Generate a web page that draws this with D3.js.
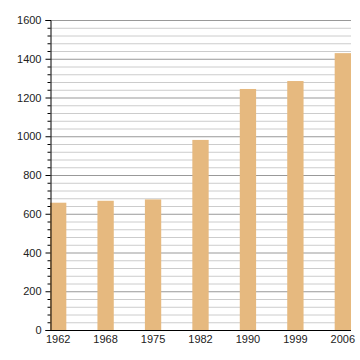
<!DOCTYPE html>
<html>
<head>
<meta charset="utf-8">
<script src="https://cdn.jsdelivr.net/npm/d3@7"></script>
<style>
  body { margin: 0; background: #fff; }
  text { font-family: "Liberation Sans", Arial, sans-serif; font-size: 11px; fill: #222; }
</style>
</head>
<body>
<svg id="chart" width="360" height="360"></svg>
<script>
var years = ["1962", "1968", "1975", "1982", "1990", "1999", "2006"]
var population = [657, 667, 674, 981, 1244, 1285, 1429]
var major_ticks = [0, 200, 400, 600, 800, 1000, 1200, 1400, 1600]

var svg = d3.select("#chart")
var plot_left = 50, plot_right = 351, plot_top = 20, plot_bottom = 330

var x = d3.scaleBand()
  .domain(years)
  .range([plot_left, plot_right])
  .paddingInner(0.656)
  .paddingOuter(0)

var y = d3.scaleLinear()
  .domain([0, 1600])
  .range([plot_bottom, plot_top])

var minor_ticks = d3.range(0, 1601, 40).filter(v => v % 200 != 0)

// grid lines
svg.append("g")
  .selectAll("line")
  .data(minor_ticks)
  .enter().append("line")
  .attr("x1", plot_left).attr("x2", plot_right)
  .attr("y1", d => y(d) + 0.5).attr("y2", d => y(d) + 0.5)
  .attr("stroke", "#cccccc")

svg.append("g")
  .selectAll("line")
  .data(major_ticks.filter(v => v > 0))
  .enter().append("line")
  .attr("x1", plot_left).attr("x2", plot_right)
  .attr("y1", d => y(d) + 0.5).attr("y2", d => y(d) + 0.5)
  .attr("stroke", "#999999")

// bars
svg.append("g")
  .selectAll("rect")
  .data(population)
  .enter().append("rect")
  .attr("x", (d, i) => x(years[i]))
  .attr("width", x.bandwidth())
  .attr("y", d => y(d))
  .attr("height", d => y(0) - y(d))
  .attr("fill", "#e6b97f")

// y axis
var yAxis = svg.append("g")
  .attr("transform", `translate(${plot_left + 0.5},0)`)
  .call(d3.axisLeft(y).tickValues(major_ticks).tickSize(5).tickPadding(4).tickFormat(d3.format("d")))
yAxis.select(".domain").attr("stroke", "#000")
yAxis.selectAll(".tick line").attr("stroke", "#000")
yAxis.selectAll("text").attr("font-family", null).attr("font-size", null).attr("fill", "#222")
svg.append("g")
  .attr("transform", `translate(${plot_left + 0.5},0)`)
  .call(d3.axisLeft(y).tickValues(minor_ticks).tickSize(3).tickFormat(""))
  .call(g => g.select(".domain").remove())
  .selectAll(".tick line").attr("stroke", "#000")

// x axis
var xAxis = svg.append("g")
  .attr("transform", `translate(0,${plot_bottom + 0.5})`)
  .call(d3.axisBottom(x).tickSize(0).tickPadding(5))
xAxis.select(".domain").attr("stroke", "#000").attr("d", `M${plot_left},0H${plot_right}`)
xAxis.selectAll("text").attr("font-family", null).attr("font-size", null).attr("fill", "#222")
svg.selectAll("g").attr("font-family", null).attr("font-size", null)
</script>
</body>
</html>
